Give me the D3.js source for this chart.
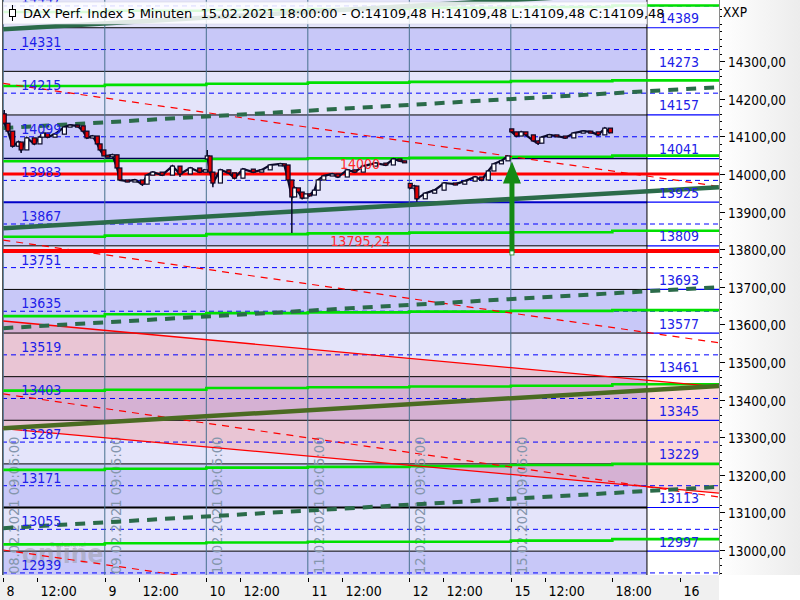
<!DOCTYPE html>
<html><head><meta charset="utf-8">
<script src="https://cdn.jsdelivr.net/npm/d3@7"></script>
<style>
html,body{margin:0;padding:0;background:#fff;}
svg{display:block;font-family:'DejaVu Sans Condensed','DejaVu Sans',sans-serif;}
</style></head><body>
<svg id="c" width="800" height="600"></svg>
<script>
// ---------------- DATA ----------------
const title = "DAX Perf. Index 5 Minuten  15.02.2021 18:00:00 - O:14109,48 H:14109,48 L:14109,48 C:14109,48";
const days = ["08.02.2021","09.02.2021","10.02.2021","11.02.2021","12.02.2021","15.02.2021"];
const dayOpens = [14160, 14050, 14040, 13947, 13975, 14120];
// [time, close, high, low]
const feb08 = [["09:05",14135,14170],["09:25",14114],["09:50",14074],["10:20",14085],["10:35",14064,null,14056],["11:05",14096],["11:45",14080],["12:15",14098],["12:30",14109],["12:55",14098],["13:35",14106],["14:25",14125],["14:55",14130],["15:35",14128],["16:05",14114],["16:25",14096],["16:55",14101],["17:20",14080],["17:35",14064],["17:55",14048]];
const feb09 = [["09:15",14048],["09:40",14051],["10:05",14016],["10:20",13984],["11:00",13981],["11:40",13984],["12:20",13973,null,13968],["12:45",13997],["13:15",14005],["14:05",13997],["15:00",14021],["15:40",14000,null,13992],["16:35",14016],["17:25",14005],["17:55",14011]];
const feb10 = [["09:05",14048,14064],["09:20",14005],["09:35",13976,null,13965],["10:15",14011],["11:00",14003],["11:30",13989],["12:15",14013],["13:10",14005],["13:55",14011],["14:40",14024],["15:35",14027],["15:55",14024],["16:15",13984],["16:35",13939,null,13843],["16:50",13963],["17:10",13952],["17:30",13936],["17:50",13947]];
const feb11 = [["09:10",13944],["09:35",13957],["09:55",13984],["10:25",13995],["11:10",14000],["11:40",13992],["12:30",14011],["13:10",14005],["13:55",14021],["15:00",14029],["15:55",14024],["16:35",14040],["17:10",14035],["17:35",14032]];
const feb12 = [["09:05",13963],["09:25",13968],["09:40",13934,null,13926],["10:25",13949],["11:15",13957],["12:05",13976],["13:05",13973],["13:55",13981],["14:50",13992],["15:25",13984],["16:00",14008],["16:30",14027],["17:10",14035],["17:45",14048]];
const feb15 = [["09:05",14112],["09:30",14101],["09:55",14112],["10:20",14104],["11:00",14088],["11:25",14082,null,14077],["11:45",14098],["12:25",14104],["13:05",14101],["13:50",14096],["14:35",14109],["15:25",14114],["16:05",14112],["16:45",14104],["17:20",14122],["17:50",14109.48]];
const dayBars = [feb08, feb09, feb10, feb11, feb12, feb15];

const levels = [14389,14273,14157,14041,13925,13809,13693,13577,13461,13345,13229,13113,12997];
const midLevels = [14447,14331,14215,14099,13983,13867,13751,13635,13519,13403,13287,13171,13055,12939];
const bandEdges = [14505,14389,14273,14157,14041,13925,13809,13693,13577,13461,13345,13229,13113,12997,12881];
const bandEndT = 57.07;   // end time (trading-hour index) of the level boxes

// lime step lines: value per segment
const limeStarts = [0,9,18,27,36,45,54];
const limeLines = [
  [14431,14434,14436,14439,14442,14444,14448],
  [14234,14237,14240,14243,14245,14247,14249],
  [14034,14035,14040,14042,14043,14046,14049],
  [13833,13836,13840,13842,13844,13845,13849],
  [13622,13627,13630,13632,13634,13636,13638],
  [13424,13426,13431,13433,13435,13437,13441],
  [13213,13216,13219,13221,13223,13226,13229],
  [13015,13018,13020,13022,13022,13025,13029]
];
// straight trend lines [[t0,p0],[t1,p1]]
const channelSolid = [[[0,14385],[63.45,14494]],[[0,13856],[63.45,13965]],[[0,13324],[63.45,13436]]];
const channelDashed = [[[0,14122],[63.45,14231]],[[0,13590],[63.45,13699]],[[0,13058],[63.45,13168]]];
const redSolid = [[[0,13609],[63.45,13434]],[[0,13323],[63.45,13151]]];
const redDashed = [[[0,14241],[63.45,13967]],[[0,13824],[63.45,13551]],[[0,13415],[63.45,13141]],[[0,13000],[63.45,12726]]];
const redLevels = [{p:14000,label:"14000",t:29.85,w:3},{p:13795.24,label:"13795,24",t:29.0,w:4}];
const arrowData = {t:45.1, from:13790, to:14033};

const yTicks = [13000,13100,13200,13300,13400,13500,13600,13700,13800,13900,14000,14100,14200,14300];
const xTicks = [[0,"8"],[3,"12:00"],[9,"9"],[12,"12:00"],[18,"10"],[21,"12:00"],[27,"11"],[30,"12:00"],[36,"12"],[39,"12:00"],[45,"15"],[48,"12:00"],[54,"18:00"],[60,"16"]];

// ---------------- CHART ----------------
const svg = d3.select("#c");
const PL = 2, PR = 719, PT = 0, PB = 575;
const x = d3.scaleLinear().domain([0,60]).range([3.3,680]);
const y = d3.scaleLinear().domain([13000,14000]).range([550,174]);
const T = (d, hm) => { const [h,m] = hm.split(":").map(Number); return d*9 + (h-9) + m/60; };

const defs = svg.append("defs");
defs.append("clipPath").attr("id","clip").append("rect").attr("x",PL).attr("y",PT).attr("width",PR-PL).attr("height",PB-PT);
const g1 = defs.append("linearGradient").attr("id","axbg").attr("x1","0").attr("x2","1");
g1.append("stop").attr("offset","0").attr("stop-color","#ffffff");
g1.append("stop").attr("offset","1").attr("stop-color","#ececec");

// axis backgrounds
svg.append("rect").attr("x",PR).attr("y",0).attr("width",800-PR).attr("height",PB).attr("fill","url(#axbg)");
svg.append("rect").attr("x",0).attr("y",PB).attr("width",PR).attr("height",600-PB).attr("fill","#f0f0f0");
svg.append("rect").attr("x",PR).attr("y",PB).attr("width",800-PR).attr("height",600-PB).attr("fill","#ffffff");

const plot = svg.append("g").attr("clip-path","url(#clip)");
plot.append("rect").attr("x",PL).attr("y",PT).attr("width",PR-PL).attr("height",PB-PT).attr("fill","#ffffff");

// bands
const xEnd = x(bandEndT);
for (let i=0;i<bandEdges.length-1;i++){
  plot.append("rect").attr("x",PL).attr("width",xEnd-PL)
    .attr("y",y(bandEdges[i])).attr("height",y(bandEdges[i+1])-y(bandEdges[i]))
    .attr("fill", i%2===1 ? "#c8c8f8" : "#e4e4fa");
}
// pink channel
const area = [...redSolid[0], ...redSolid[1].slice().reverse()];
plot.append("path").attr("d", d3.line().x(d=>x(d[0])).y(d=>y(d[1]))(area)+"Z")
  .attr("fill","rgb(245,125,125)").attr("fill-opacity",0.3);

// dashed mid levels
midLevels.forEach(p=>{
  plot.append("line").attr("x1",PL).attr("x2",PR).attr("y1",y(p)).attr("y2",y(p))
    .attr("stroke","#0000ff").attr("stroke-width",1).attr("stroke-dasharray","5,4");
});
// solid levels
levels.forEach(p=>{
  let col="#000000", w=1;
  if (p===13925){col="#0000c8"; w=2;}
  if (p===13113){w=2;}
  if (p===14041){col="#000050"; w=1.5;}
  plot.append("line").attr("x1",PL).attr("x2",xEnd).attr("y1",y(p)).attr("y2",y(p)).attr("stroke",col).attr("stroke-width",w);
  plot.append("line").attr("x1",xEnd).attr("x2",PR).attr("y1",y(p)).attr("y2",y(p)).attr("stroke","#0000ff").attr("stroke-width",1.2);
});
// vertical day lines
days.forEach((d,i)=>{
  plot.append("line").attr("x1",x(i*9)).attr("x2",x(i*9)).attr("y1",PT).attr("y2",PB).attr("stroke","#46708e").attr("stroke-width",1);
  plot.append("text").attr("transform",`translate(${x(i*9)+16},${PB-1}) rotate(-90)`)
    .attr("font-size",14.5).attr("fill","#8496ac").text(d+" 09:05:00");
});
plot.append("line").attr("x1",xEnd).attr("x2",xEnd).attr("y1",PT).attr("y2",PB).attr("stroke","#000").attr("stroke-width",1);

// watermark
plot.append("text").attr("x",22).attr("y",563).attr("font-size",26).attr("font-weight","bold").attr("fill","#8a8a8a").attr("fill-opacity",0.4).text("online");
plot.append("text").attr("x",50).attr("y",547).attr("font-size",7).attr("fill","#8a8a8a").attr("fill-opacity",0.55).text("Tradesignal");

const ln = d3.line().x(d=>x(d[0])).y(d=>y(d[1]));
// lime step lines
limeLines.forEach(vals=>{
  const pts=[];
  vals.forEach((v,i)=>{ const t0=limeStarts[i], t1=(i<vals.length-1)?limeStarts[i+1]:63.6; pts.push([t0,v],[t1,v]); });
  plot.append("path").attr("d",ln(pts)).attr("fill","none").attr("stroke","#00e000").attr("stroke-width",2.6);
});
// red dashed
redDashed.forEach(s=>plot.append("path").attr("d",ln(s)).attr("fill","none").attr("stroke","#ff0000").attr("stroke-width",1.2).attr("stroke-dasharray","7,6"));
// red solid channel
redSolid.forEach(s=>plot.append("path").attr("d",ln(s)).attr("fill","none").attr("stroke","#ff0000").attr("stroke-width",1.3));
// dark green channel
channelSolid.forEach((s,i)=>plot.append("path").attr("d",ln(s)).attr("fill","none").attr("stroke", i===2?"#4b6b22":"#2b6b4a").attr("stroke-width",4.5));
channelDashed.forEach(s=>plot.append("path").attr("d",ln(s)).attr("fill","none").attr("stroke","#2b6b4a").attr("stroke-width",4).attr("stroke-dasharray","10,8"));
// red horizontal levels
redLevels.forEach(r=>{
  plot.append("line").attr("x1",PL).attr("x2",PR).attr("y1",y(r.p)).attr("y2",y(r.p)).attr("stroke","#ff0000").attr("stroke-width",r.w);
});

// candles
dayBars.forEach((bars,d)=>{
  let prev = dayOpens[d];
  const cs = bars.map(b=>{
    const o=prev, c=b[1];
    const h = b[2]!=null ? b[2] : Math.max(o,c);
    const l = b[3]!=null ? b[3] : Math.min(o,c);
    prev=c;
    return {t:T(d,b[0]), o, c, h, l};
  });
  const path = [[cs[0].t, cs[0].o], ...cs.map(c=>[c.t,c.c])];
  plot.append("path").attr("d",ln(path)).attr("fill","none").attr("stroke","#0a0a2a").attr("stroke-width",2.2);
  const g = plot.append("g");
  g.selectAll("line").data(cs).join("line")
    .attr("x1",c=>x(c.t)).attr("x2",c=>x(c.t)).attr("y1",c=>y(c.h)).attr("y2",c=>y(c.l))
    .attr("stroke","#0a0a2a").attr("stroke-width",1.5);
  g.selectAll("rect").data(cs).join("rect")
    .attr("x",c=>x(c.t)-2).attr("width",4)
    .attr("y",c=>y(Math.max(c.o,c.c))).attr("height",c=>Math.max(2,Math.abs(y(c.o)-y(c.c))))
    .attr("fill",c=>c.c<c.o?"#e00000":"#ffffff").attr("stroke","#0a0a2a").attr("stroke-width",1.2);
});

// arrow
{
  const ax=x(arrowData.t), yb=y(arrowData.from), yt=y(arrowData.to), hh=22, hw=9;
  plot.append("line").attr("x1",ax).attr("x2",ax).attr("y1",yb).attr("y2",yt+hh-1).attr("stroke","#148a14").attr("stroke-width",5);
  plot.append("path").attr("d",`M${ax},${yt} L${ax+hw},${yt+hh} L${ax-hw},${yt+hh} Z`).attr("fill","#148a14");
  plot.append("rect").attr("x",ax-2).attr("y",yb-2).attr("width",4).attr("height",4).attr("fill","#fff").attr("stroke","#148a14").attr("stroke-width",0.8);
}

// labels
midLevels.forEach(p=>{
  plot.append("text").attr("x",x(0)+18).attr("y",y(p)-3).attr("font-size",14).attr("fill","#2020e8").text(p);
});
levels.forEach(p=>{
  plot.append("text").attr("x",xEnd+12).attr("y",y(p)-4.5).attr("font-size",14).attr("fill","#2020e8").text(p);
});
redLevels.forEach(r=>{
  plot.append("text").attr("x",x(r.t)).attr("y",y(r.p)-5).attr("font-size",14).attr("fill","#ff2a2a").text(r.label);
});

// title box
plot.append("rect").attr("x",3).attr("y",2).attr("width",xEnd-3).attr("height",22).attr("fill","#ffffff").attr("fill-opacity",0.85).attr("stroke","#d4d4e4").attr("stroke-width",0.6);
plot.append("line").attr("x1",12.5).attr("x2",12.5).attr("y1",5).attr("y2",21).attr("stroke","#000").attr("stroke-width",1);
plot.append("rect").attr("x",9.5).attr("y",9.5).attr("width",6).attr("height",7).attr("fill","#fff").attr("stroke","#000").attr("stroke-width",1);
svg.append("text").attr("x",23).attr("y",18).attr("font-family","'DejaVu Sans',sans-serif").attr("font-size",13).attr("fill","#000")
  .style("white-space","pre").text(title);

// left border
svg.append("line").attr("x1",PL+0.5).attr("x2",PL+0.5).attr("y1",0).attr("y2",PB).attr("stroke","#555").attr("stroke-width",1);

// right axis
svg.append("line").attr("x1",PR+0.5).attr("x2",PR+0.5).attr("y1",0).attr("y2",PB).attr("stroke","#8a8a8a").attr("stroke-width",1);
for (let v=12940; v<=14460; v+=20){
  if (v%100===0) continue;
  const yy=y(v); if (yy<2||yy>PB) continue;
  svg.append("line").attr("x1",PR+1).attr("x2",PR+3).attr("y1",Math.round(yy)+0.5).attr("y2",Math.round(yy)+0.5).attr("stroke","#000").attr("stroke-width",1);
}
svg.append("line").attr("x1",PR+1).attr("x2",PR+3).attr("y1",Math.round(y(14400))+0.5).attr("y2",Math.round(y(14400))+0.5).attr("stroke","#000");
yTicks.forEach(v=>{
  const yy=Math.round(y(v))+0.5;
  svg.append("line").attr("x1",PR+1).attr("x2",PR+6).attr("y1",yy).attr("y2",yy).attr("stroke","#000");
  svg.append("text").attr("x",PR+9).attr("y",yy+5).attr("font-size",13.5).attr("fill","#000").text(v.toFixed(2).replace(".",","));
});
svg.append("text").attr("x",PR+4).attr("y",17).attr("font-size",13.5).attr("fill","#000").text("XXP");

// bottom axis
xTicks.forEach(([t,l])=>{
  const xx=Math.round(x(t))+0.5;
  svg.append("line").attr("x1",xx).attr("x2",xx).attr("y1",PB+3).attr("y2",PB+7).attr("stroke","#000");
  svg.append("text").attr("x",xx+3).attr("y",PB+21).attr("font-size",14).attr("fill","#000").text(l);
});
</script>
</body></html>
